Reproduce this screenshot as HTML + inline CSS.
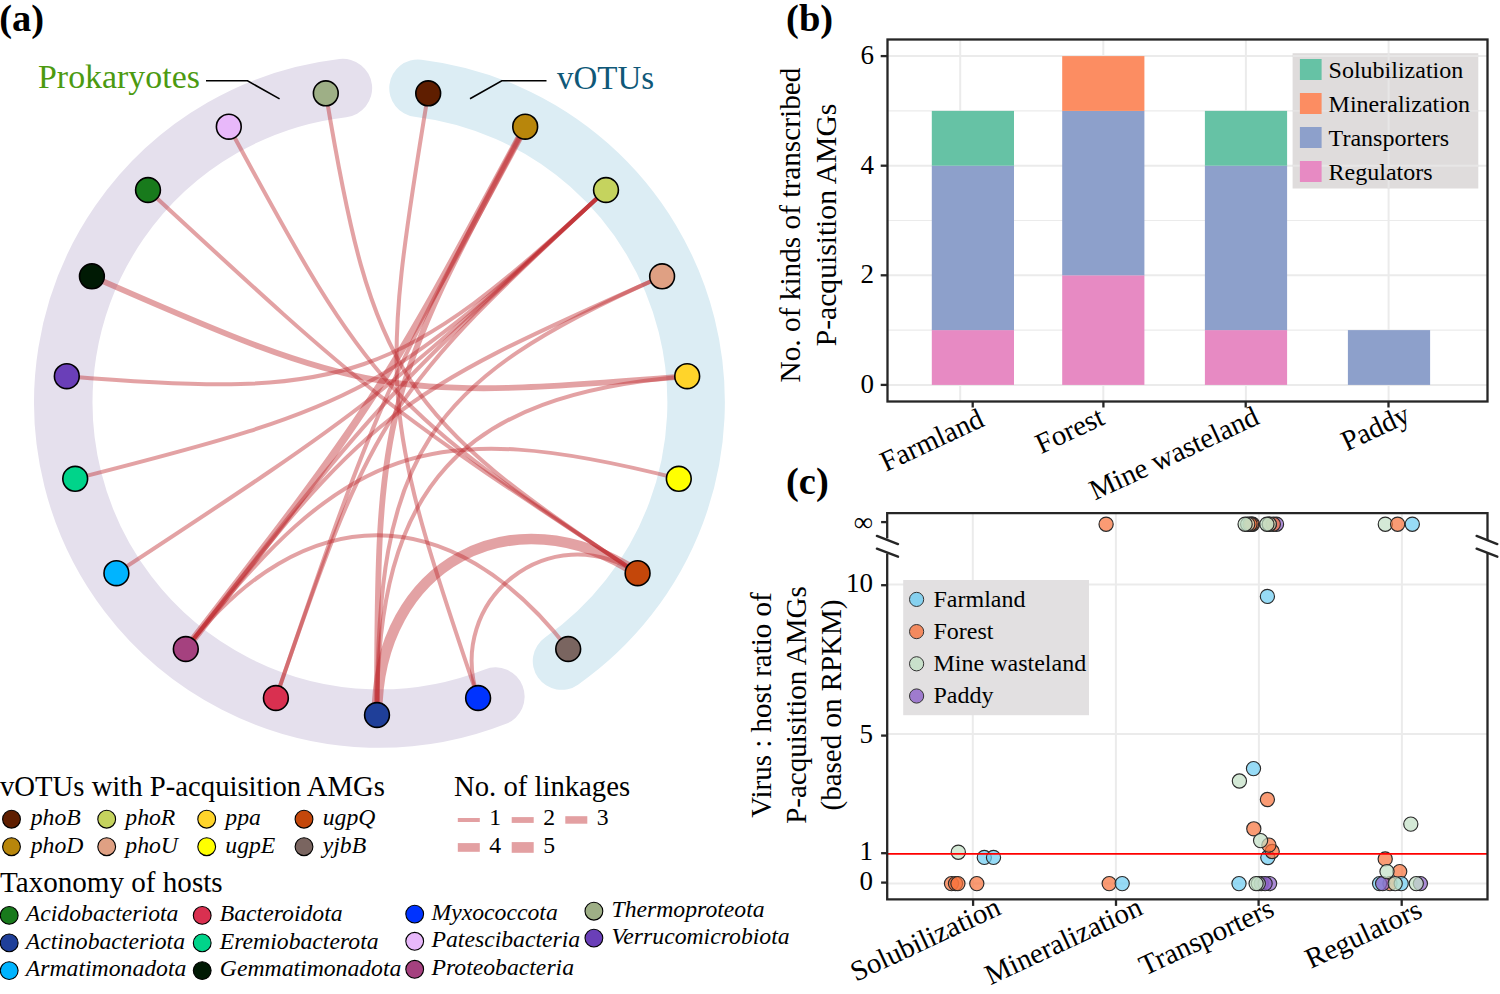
<!DOCTYPE html><html><head><meta charset="utf-8"><style>html,body{margin:0;padding:0;background:#fff;width:1500px;height:994px;overflow:hidden}svg{display:block}text{font-family:"Liberation Serif",serif}</style></head><body>
<svg width="1500" height="994" viewBox="0 0 1500 994">
<text x="-0.8" y="31.2" font-size="38.5" font-weight="bold">(a)</text>
<path d="M495.4 696.6A316.3 316.3 0 1 1 342.9 88.1" fill="none" stroke="#e5e0ed" stroke-width="58.5" stroke-linecap="round"/>
<path d="M418.0 88.2A316.3 316.3 0 0 1 561.5 661.1" fill="none" stroke="#dcedf4" stroke-width="57.5" stroke-linecap="round"/>
<text x="38" y="87.8" font-size="33.9" fill="#4c9a10">Prokaryotes</text>
<polyline points="206,80.8 247.5,80.8 279.6,98.9" fill="none" stroke="#000" stroke-width="1.6"/>
<text x="557" y="88.9" font-size="33" fill="#0f5878">vOTUs</text>
<polyline points="470,98.8 501.8,80.8 546.5,80.8" fill="none" stroke="#000" stroke-width="1.6"/>
<g fill="none" stroke="#bf2b2f" stroke-opacity="0.44">
<path d="M568.2 649.0C450.8 497.3 303.2 497.3 185.8 649.0" stroke-width="4.0"/>
<path d="M637.6 573.2C512.4 490.9 377.0 564.6 377.0 715.0" stroke-width="10.7"/>
<path d="M637.6 573.2C550.6 516.0 444.3 599.2 478.1 698.0" stroke-width="4.0"/>
<path d="M637.6 573.2C400.5 417.4 372.4 374.2 325.8 93.3" stroke-width="4.0"/>
<path d="M637.6 573.2C387.1 408.6 371.3 391.3 228.8 126.7" stroke-width="4.0"/>
<path d="M637.6 573.2C380.4 404.3 374.0 399.2 148.0 190.0" stroke-width="4.0"/>
<path d="M606.0 190.0C398.3 382.3 348.1 399.6 66.8 376.2" stroke-width="4.0"/>
<path d="M606.0 190.0C386.2 393.4 364.8 405.1 75.2 478.8" stroke-width="4.0"/>
<path d="M606.0 190.0C380.0 399.2 373.6 404.3 116.4 573.2" stroke-width="4.0"/>
<path d="M606.0 190.0C379.8 399.4 374.6 405.0 185.8 649.0" stroke-width="4.0"/>
<path d="M606.0 190.0C385.7 394.0 373.2 413.2 275.9 698.0" stroke-width="4.0"/>
<path d="M525.2 126.7C378.7 398.8 374.8 404.8 185.8 649.0" stroke-width="7.5"/>
<path d="M525.2 126.7C378.6 399.0 375.9 405.2 275.9 698.0" stroke-width="4.0"/>
<path d="M525.2 126.7C382.4 391.9 377.0 413.5 377.0 715.0" stroke-width="5.8"/>
<path d="M687.2 376.2C389.8 400.9 365.2 396.8 91.9 276.3" stroke-width="5.8"/>
<path d="M687.2 376.2C459.5 395.1 377.0 485.3 377.0 715.0" stroke-width="4.0"/>
<path d="M662.1 276.3C424.5 381.0 377.0 454.2 377.0 715.0" stroke-width="4.0"/>
<path d="M662.1 276.3C388.3 397.0 369.4 411.8 185.8 649.0" stroke-width="4.0"/>
<path d="M428.2 93.3C378.9 390.8 380.7 412.8 478.1 698.0" stroke-width="4.0"/>
<path d="M678.8 478.8C428.1 415.0 344.6 443.8 185.8 649.0" stroke-width="4.0"/>
</g>
<circle cx="428.2" cy="93.3" r="12.4" fill="#5f1e00" stroke="#000" stroke-width="1.6"/>
<circle cx="525.2" cy="126.7" r="12.4" fill="#b8860b" stroke="#000" stroke-width="1.6"/>
<circle cx="606.0" cy="190.0" r="12.4" fill="#c5d35e" stroke="#000" stroke-width="1.6"/>
<circle cx="662.1" cy="276.3" r="12.4" fill="#dfa083" stroke="#000" stroke-width="1.6"/>
<circle cx="687.2" cy="376.2" r="12.4" fill="#ffd42a" stroke="#000" stroke-width="1.6"/>
<circle cx="678.8" cy="478.8" r="12.4" fill="#ffff00" stroke="#000" stroke-width="1.6"/>
<circle cx="637.6" cy="573.2" r="12.4" fill="#c4470a" stroke="#000" stroke-width="1.6"/>
<circle cx="568.2" cy="649.0" r="12.4" fill="#7a6560" stroke="#000" stroke-width="1.6"/>
<circle cx="478.1" cy="698.0" r="12.4" fill="#0033ff" stroke="#000" stroke-width="1.6"/>
<circle cx="377.0" cy="715.0" r="12.4" fill="#1f3f99" stroke="#000" stroke-width="1.6"/>
<circle cx="275.9" cy="698.0" r="12.4" fill="#d93050" stroke="#000" stroke-width="1.6"/>
<circle cx="185.8" cy="649.0" r="12.4" fill="#a5417f" stroke="#000" stroke-width="1.6"/>
<circle cx="116.4" cy="573.2" r="12.4" fill="#00b4ff" stroke="#000" stroke-width="1.6"/>
<circle cx="75.2" cy="478.8" r="12.4" fill="#00d48a" stroke="#000" stroke-width="1.6"/>
<circle cx="66.8" cy="376.2" r="12.4" fill="#6a3fb8" stroke="#000" stroke-width="1.6"/>
<circle cx="91.9" cy="276.3" r="12.4" fill="#001a04" stroke="#000" stroke-width="1.6"/>
<circle cx="148.0" cy="190.0" r="12.4" fill="#187a1c" stroke="#000" stroke-width="1.6"/>
<circle cx="228.8" cy="126.7" r="12.4" fill="#e8b8fa" stroke="#000" stroke-width="1.6"/>
<circle cx="325.8" cy="93.3" r="12.4" fill="#9eaf86" stroke="#000" stroke-width="1.6"/>
<text x="0" y="796" font-size="28.7">vOTUs with P-acquisition AMGs</text>
<circle cx="11.5" cy="819.2" r="8.9" fill="#5f1e00" stroke="#000" stroke-width="1.1"/>
<text x="30.7" y="825.3" font-size="23.7" font-style="italic">phoB</text>
<circle cx="11.5" cy="846.7" r="8.9" fill="#b8860b" stroke="#000" stroke-width="1.1"/>
<text x="30.7" y="852.8" font-size="23.7" font-style="italic">phoD</text>
<circle cx="106.7" cy="819.2" r="8.9" fill="#c5d35e" stroke="#000" stroke-width="1.1"/>
<text x="125.3" y="825.3" font-size="23.7" font-style="italic">phoR</text>
<circle cx="106.7" cy="846.7" r="8.9" fill="#dfa083" stroke="#000" stroke-width="1.1"/>
<text x="125.3" y="852.8" font-size="23.7" font-style="italic">phoU</text>
<circle cx="206.7" cy="819.2" r="8.9" fill="#ffd42a" stroke="#000" stroke-width="1.1"/>
<text x="225.3" y="825.3" font-size="23.7" font-style="italic">ppa</text>
<circle cx="206.7" cy="846.7" r="8.9" fill="#ffff00" stroke="#000" stroke-width="1.1"/>
<text x="225.3" y="852.8" font-size="23.7" font-style="italic">ugpE</text>
<circle cx="304.0" cy="819.2" r="8.9" fill="#c4470a" stroke="#000" stroke-width="1.1"/>
<text x="322.7" y="825.3" font-size="23.7" font-style="italic">ugpQ</text>
<circle cx="304.0" cy="846.7" r="8.9" fill="#7a6560" stroke="#000" stroke-width="1.1"/>
<text x="322.7" y="852.8" font-size="23.7" font-style="italic">yjbB</text>
<text x="454" y="795.8" font-size="28.7">No. of linkages</text>
<rect x="457.8" y="818.0" width="22" height="4.0" fill="#e3a0a2"/>
<text x="489.3" y="825.3" font-size="23.7">1</text>
<rect x="511.7" y="817.1" width="22" height="5.8" fill="#e3a0a2"/>
<text x="543.2" y="825.3" font-size="23.7">2</text>
<rect x="565.3" y="816.2" width="22" height="7.5" fill="#e3a0a2"/>
<text x="596.8" y="825.3" font-size="23.7">3</text>
<rect x="457.8" y="843.1" width="22" height="8.7" fill="#e3a0a2"/>
<text x="489.3" y="852.8" font-size="23.7">4</text>
<rect x="511.7" y="842.1" width="22" height="10.7" fill="#e3a0a2"/>
<text x="543.2" y="852.8" font-size="23.7">5</text>
<text x="0" y="892.2" font-size="29.1">Taxonomy of hosts</text>
<circle cx="9.2" cy="915.4" r="8.9" fill="#187a1c" stroke="#000" stroke-width="1.1"/>
<text x="25.8" y="921.0" font-size="23.7" font-style="italic">Acidobacteriota</text>
<circle cx="9.2" cy="942.9" r="8.9" fill="#1f3f99" stroke="#000" stroke-width="1.1"/>
<text x="25.8" y="948.5" font-size="23.7" font-style="italic">Actinobacteriota</text>
<circle cx="9.2" cy="970.6" r="8.9" fill="#00b4ff" stroke="#000" stroke-width="1.1"/>
<text x="25.8" y="976.2" font-size="23.7" font-style="italic">Armatimonadota</text>
<circle cx="202.2" cy="915.4" r="8.9" fill="#d93050" stroke="#000" stroke-width="1.1"/>
<text x="219.8" y="921.0" font-size="23.7" font-style="italic">Bacteroidota</text>
<circle cx="202.2" cy="942.9" r="8.9" fill="#00d48a" stroke="#000" stroke-width="1.1"/>
<text x="219.8" y="948.5" font-size="23.7" font-style="italic">Eremiobacterota</text>
<circle cx="202.2" cy="970.6" r="8.9" fill="#001a04" stroke="#000" stroke-width="1.1"/>
<text x="219.8" y="976.2" font-size="23.7" font-style="italic">Gemmatimonadota</text>
<circle cx="414.7" cy="914.1" r="8.9" fill="#0033ff" stroke="#000" stroke-width="1.1"/>
<text x="431.5" y="919.7" font-size="23.7" font-style="italic">Myxococcota</text>
<circle cx="414.7" cy="941.3" r="8.9" fill="#e8b8fa" stroke="#000" stroke-width="1.1"/>
<text x="431.5" y="946.9" font-size="23.7" font-style="italic">Patescibacteria</text>
<circle cx="414.7" cy="969.3" r="8.9" fill="#a5417f" stroke="#000" stroke-width="1.1"/>
<text x="431.5" y="974.9" font-size="23.7" font-style="italic">Proteobacteria</text>
<circle cx="593.9" cy="911.2" r="8.9" fill="#9eaf86" stroke="#000" stroke-width="1.1"/>
<text x="611.5" y="916.8" font-size="23.7" font-style="italic">Thermoproteota</text>
<circle cx="593.9" cy="938.1" r="8.9" fill="#6a3fb8" stroke="#000" stroke-width="1.1"/>
<text x="611.5" y="943.7" font-size="23.7" font-style="italic">Verrucomicrobiota</text>
<text x="786.1" y="31.3" font-size="38.5" font-weight="bold">(b)</text>
<line x1="887.5" x2="1487.5" y1="384.9" y2="384.9" stroke="#ebebeb" stroke-width="2.0"/>
<line x1="887.5" x2="1487.5" y1="330.1" y2="330.1" stroke="#ebebeb" stroke-width="1.2"/>
<line x1="887.5" x2="1487.5" y1="275.3" y2="275.3" stroke="#ebebeb" stroke-width="2.0"/>
<line x1="887.5" x2="1487.5" y1="220.5" y2="220.5" stroke="#ebebeb" stroke-width="1.2"/>
<line x1="887.5" x2="1487.5" y1="165.7" y2="165.7" stroke="#ebebeb" stroke-width="2.0"/>
<line x1="887.5" x2="1487.5" y1="110.9" y2="110.9" stroke="#ebebeb" stroke-width="1.2"/>
<line x1="887.5" x2="1487.5" y1="56.1" y2="56.1" stroke="#ebebeb" stroke-width="2.0"/>
<line x1="960.2" x2="960.2" y1="39.5" y2="401.5" stroke="#ebebeb" stroke-width="2"/>
<line x1="1103.3" x2="1103.3" y1="39.5" y2="401.5" stroke="#ebebeb" stroke-width="2"/>
<line x1="1245.9" x2="1245.9" y1="39.5" y2="401.5" stroke="#ebebeb" stroke-width="2"/>
<line x1="1388.6" x2="1388.6" y1="39.5" y2="401.5" stroke="#ebebeb" stroke-width="2"/>
<rect x="931.8" y="330.1" width="82.2" height="54.8" fill="#e78ac3"/>
<rect x="931.8" y="165.7" width="82.2" height="164.4" fill="#8da0cb"/>
<rect x="931.8" y="110.9" width="82.2" height="54.8" fill="#66c2a5"/>
<rect x="1062.2" y="275.3" width="82.2" height="109.6" fill="#e78ac3"/>
<rect x="1062.2" y="110.9" width="82.2" height="164.4" fill="#8da0cb"/>
<rect x="1062.2" y="56.1" width="82.2" height="54.8" fill="#fc8d62"/>
<rect x="1204.9" y="330.1" width="82.2" height="54.8" fill="#e78ac3"/>
<rect x="1204.9" y="165.7" width="82.2" height="164.4" fill="#8da0cb"/>
<rect x="1204.9" y="110.9" width="82.2" height="54.8" fill="#66c2a5"/>
<rect x="1347.9" y="330.1" width="82.2" height="54.8" fill="#8da0cb"/>
<rect x="1292.6" y="53.2" width="185.7" height="135.3" fill="#dfdcdc"/>
<line x1="1292.6" x2="1478.3" y1="56.1" y2="56.1" stroke="#e7e6e6" stroke-width="2.0"/>
<line x1="1292.6" x2="1478.3" y1="110.9" y2="110.9" stroke="#e7e6e6" stroke-width="1.2"/>
<line x1="1292.6" x2="1478.3" y1="165.7" y2="165.7" stroke="#e7e6e6" stroke-width="2.0"/>
<line x1="1388.6" x2="1388.6" y1="53.2" y2="188.5" stroke="#e7e6e6" stroke-width="2"/>
<rect x="1299.9" y="59.0" width="21.7" height="21" fill="#66c2a5"/>
<text x="1328.6" y="77.6" font-size="24">Solubilization</text>
<rect x="1299.9" y="93.0" width="21.7" height="21" fill="#fc8d62"/>
<text x="1328.6" y="111.6" font-size="24">Mineralization</text>
<rect x="1299.9" y="127.0" width="21.7" height="21" fill="#8da0cb"/>
<text x="1328.6" y="145.6" font-size="24">Transporters</text>
<rect x="1299.9" y="161.0" width="21.7" height="21" fill="#e78ac3"/>
<text x="1328.6" y="179.6" font-size="24">Regulators</text>
<rect x="887.5" y="39.5" width="600.0" height="362.0" fill="none" stroke="#262626" stroke-width="2.3"/>
<line x1="880.7" x2="887.5" y1="384.9" y2="384.9" stroke="#262626" stroke-width="2.3"/>
<text x="874" y="392.7" font-size="27" text-anchor="end">0</text>
<line x1="880.7" x2="887.5" y1="275.3" y2="275.3" stroke="#262626" stroke-width="2.3"/>
<text x="874" y="283.1" font-size="27" text-anchor="end">2</text>
<line x1="880.7" x2="887.5" y1="165.7" y2="165.7" stroke="#262626" stroke-width="2.3"/>
<text x="874" y="173.5" font-size="27" text-anchor="end">4</text>
<line x1="880.7" x2="887.5" y1="56.1" y2="56.1" stroke="#262626" stroke-width="2.3"/>
<text x="874" y="63.9" font-size="27" text-anchor="end">6</text>
<line x1="972.7" x2="972.7" y1="401.5" y2="407.5" stroke="#262626" stroke-width="2.3"/>
<line x1="1103.4" x2="1103.4" y1="401.5" y2="407.5" stroke="#262626" stroke-width="2.3"/>
<line x1="1245.7" x2="1245.7" y1="401.5" y2="407.5" stroke="#262626" stroke-width="2.3"/>
<line x1="1388.5" x2="1388.5" y1="401.5" y2="407.5" stroke="#262626" stroke-width="2.3"/>
<text transform="translate(985.8,425.4) rotate(-25)" font-size="28.8" text-anchor="end">Farmland</text>
<text transform="translate(1106.2,423.7) rotate(-25)" font-size="28.8" text-anchor="end">Forest</text>
<text transform="translate(1260.9,423.2) rotate(-25)" font-size="28.8" text-anchor="end">Mine wasteland</text>
<text transform="translate(1411.9,421.1) rotate(-25)" font-size="28.8" text-anchor="end">Paddy</text>
<text transform="translate(800.3,225) rotate(-90)" font-size="29.3" text-anchor="middle">No. of kinds of transcribed</text>
<text transform="translate(836,225) rotate(-90)" font-size="29.6" text-anchor="middle">P-acquisition AMGs</text>
<text x="786" y="493.6" font-size="38.5" font-weight="bold">(c)</text>
<line x1="887.5" x2="1487.5" y1="883.4" y2="883.4" stroke="#ebebeb" stroke-width="2"/>
<line x1="887.5" x2="1487.5" y1="733.9" y2="733.9" stroke="#ebebeb" stroke-width="2"/>
<line x1="887.5" x2="1487.5" y1="584.4" y2="584.4" stroke="#ebebeb" stroke-width="2"/>
<line x1="972.8" x2="972.8" y1="513.1" y2="899.3" stroke="#ebebeb" stroke-width="2"/>
<line x1="1115.9" x2="1115.9" y1="513.1" y2="899.3" stroke="#ebebeb" stroke-width="2"/>
<line x1="1258.9" x2="1258.9" y1="513.1" y2="899.3" stroke="#ebebeb" stroke-width="2"/>
<line x1="1401.9" x2="1401.9" y1="513.1" y2="899.3" stroke="#ebebeb" stroke-width="2"/>
<rect x="903.2" y="580" width="185.8" height="135.2" fill="#e2e0e1"/>
<circle cx="916.6" cy="599.4" r="7.1" fill="#6fcdf3" fill-opacity="0.8" stroke="#333" stroke-width="1"/>
<text x="933.5" y="606.7" font-size="24">Farmland</text>
<circle cx="916.6" cy="631.6" r="7.1" fill="#f8743f" fill-opacity="0.8" stroke="#333" stroke-width="1"/>
<text x="933.5" y="638.9" font-size="24">Forest</text>
<circle cx="916.6" cy="663.8" r="7.1" fill="#c3e1c6" fill-opacity="0.8" stroke="#333" stroke-width="1"/>
<text x="933.5" y="671.1" font-size="24">Mine wasteland</text>
<circle cx="916.6" cy="696.0" r="7.1" fill="#8e62c9" fill-opacity="0.8" stroke="#333" stroke-width="1"/>
<text x="933.5" y="703.3" font-size="24">Paddy</text>
<circle cx="951.5" cy="883.6" r="7.1" fill="#f8743f" fill-opacity="0.72" stroke="#2a2a2a" stroke-width="1.15"/>
<circle cx="955.5" cy="883.6" r="7.1" fill="#f8743f" fill-opacity="0.72" stroke="#2a2a2a" stroke-width="1.15"/>
<circle cx="957.9" cy="883.6" r="7.1" fill="#f8743f" fill-opacity="0.72" stroke="#2a2a2a" stroke-width="1.15"/>
<circle cx="976.8" cy="883.6" r="7.1" fill="#f8743f" fill-opacity="0.72" stroke="#2a2a2a" stroke-width="1.15"/>
<circle cx="958.3" cy="852.2" r="7.1" fill="#c3e1c6" fill-opacity="0.72" stroke="#2a2a2a" stroke-width="1.15"/>
<circle cx="984.3" cy="857.4" r="7.1" fill="#6fcdf3" fill-opacity="0.72" stroke="#2a2a2a" stroke-width="1.15"/>
<circle cx="993.5" cy="857.4" r="7.1" fill="#6fcdf3" fill-opacity="0.72" stroke="#2a2a2a" stroke-width="1.15"/>
<circle cx="1106.1" cy="524.2" r="7.1" fill="#f8743f" fill-opacity="0.72" stroke="#2a2a2a" stroke-width="1.15"/>
<circle cx="1109.2" cy="883.6" r="7.1" fill="#f8743f" fill-opacity="0.72" stroke="#2a2a2a" stroke-width="1.15"/>
<circle cx="1122.2" cy="883.6" r="7.1" fill="#6fcdf3" fill-opacity="0.72" stroke="#2a2a2a" stroke-width="1.15"/>
<circle cx="1252.5" cy="524.2" r="7.1" fill="#f8743f" fill-opacity="0.72" stroke="#2a2a2a" stroke-width="1.15"/>
<circle cx="1251.5" cy="524.2" r="7.1" fill="#f8743f" fill-opacity="0.72" stroke="#2a2a2a" stroke-width="1.15"/>
<circle cx="1250.0" cy="524.2" r="7.1" fill="#f8743f" fill-opacity="0.72" stroke="#2a2a2a" stroke-width="1.15"/>
<circle cx="1247.7" cy="524.2" r="7.1" fill="#c3e1c6" fill-opacity="0.72" stroke="#2a2a2a" stroke-width="1.15"/>
<circle cx="1245.1" cy="524.2" r="7.1" fill="#c3e1c6" fill-opacity="0.72" stroke="#2a2a2a" stroke-width="1.15"/>
<circle cx="1276.5" cy="524.2" r="7.1" fill="#8e62c9" fill-opacity="0.72" stroke="#2a2a2a" stroke-width="1.15"/>
<circle cx="1273.3" cy="524.2" r="7.1" fill="#f8743f" fill-opacity="0.72" stroke="#2a2a2a" stroke-width="1.15"/>
<circle cx="1269.3" cy="524.2" r="7.1" fill="#f8743f" fill-opacity="0.72" stroke="#2a2a2a" stroke-width="1.15"/>
<circle cx="1269.3" cy="524.2" r="7.1" fill="#c3e1c6" fill-opacity="0.72" stroke="#2a2a2a" stroke-width="1.15"/>
<circle cx="1266.9" cy="524.2" r="7.1" fill="#c3e1c6" fill-opacity="0.72" stroke="#2a2a2a" stroke-width="1.15"/>
<circle cx="1267.4" cy="596.4" r="7.1" fill="#6fcdf3" fill-opacity="0.72" stroke="#2a2a2a" stroke-width="1.15"/>
<circle cx="1253.5" cy="768.6" r="7.1" fill="#6fcdf3" fill-opacity="0.72" stroke="#2a2a2a" stroke-width="1.15"/>
<circle cx="1239.4" cy="781.0" r="7.1" fill="#c3e1c6" fill-opacity="0.72" stroke="#2a2a2a" stroke-width="1.15"/>
<circle cx="1267.4" cy="799.5" r="7.1" fill="#f8743f" fill-opacity="0.72" stroke="#2a2a2a" stroke-width="1.15"/>
<circle cx="1253.8" cy="828.8" r="7.1" fill="#f8743f" fill-opacity="0.72" stroke="#2a2a2a" stroke-width="1.15"/>
<circle cx="1267.8" cy="857.5" r="7.1" fill="#6fcdf3" fill-opacity="0.72" stroke="#2a2a2a" stroke-width="1.15"/>
<circle cx="1272.2" cy="851.5" r="7.1" fill="#f8743f" fill-opacity="0.72" stroke="#2a2a2a" stroke-width="1.15"/>
<circle cx="1268.9" cy="845.1" r="7.1" fill="#f8743f" fill-opacity="0.72" stroke="#2a2a2a" stroke-width="1.15"/>
<circle cx="1260.6" cy="840.6" r="7.1" fill="#c3e1c6" fill-opacity="0.72" stroke="#2a2a2a" stroke-width="1.15"/>
<circle cx="1239.0" cy="883.6" r="7.1" fill="#6fcdf3" fill-opacity="0.72" stroke="#2a2a2a" stroke-width="1.15"/>
<circle cx="1261.3" cy="883.6" r="7.1" fill="#8e62c9" fill-opacity="0.72" stroke="#2a2a2a" stroke-width="1.15"/>
<circle cx="1269.6" cy="883.6" r="7.1" fill="#8e62c9" fill-opacity="0.72" stroke="#2a2a2a" stroke-width="1.15"/>
<circle cx="1265.1" cy="883.6" r="7.1" fill="#8e62c9" fill-opacity="0.72" stroke="#2a2a2a" stroke-width="1.15"/>
<circle cx="1258.3" cy="883.6" r="7.1" fill="#c3e1c6" fill-opacity="0.72" stroke="#2a2a2a" stroke-width="1.15"/>
<circle cx="1256.1" cy="883.6" r="7.1" fill="#c3e1c6" fill-opacity="0.72" stroke="#2a2a2a" stroke-width="1.15"/>
<circle cx="1385.3" cy="524.2" r="7.1" fill="#c3e1c6" fill-opacity="0.72" stroke="#2a2a2a" stroke-width="1.15"/>
<circle cx="1397.6" cy="524.2" r="7.1" fill="#f8743f" fill-opacity="0.72" stroke="#2a2a2a" stroke-width="1.15"/>
<circle cx="1412.3" cy="524.2" r="7.1" fill="#6fcdf3" fill-opacity="0.72" stroke="#2a2a2a" stroke-width="1.15"/>
<circle cx="1410.8" cy="824.1" r="7.1" fill="#c3e1c6" fill-opacity="0.72" stroke="#2a2a2a" stroke-width="1.15"/>
<circle cx="1385.2" cy="858.9" r="7.1" fill="#f8743f" fill-opacity="0.72" stroke="#2a2a2a" stroke-width="1.15"/>
<circle cx="1399.7" cy="871.6" r="7.1" fill="#f8743f" fill-opacity="0.72" stroke="#2a2a2a" stroke-width="1.15"/>
<circle cx="1390.0" cy="883.6" r="7.1" fill="#f8743f" fill-opacity="0.72" stroke="#2a2a2a" stroke-width="1.15"/>
<circle cx="1379.6" cy="883.6" r="7.1" fill="#6fcdf3" fill-opacity="0.72" stroke="#2a2a2a" stroke-width="1.15"/>
<circle cx="1382.6" cy="883.6" r="7.1" fill="#8e62c9" fill-opacity="0.72" stroke="#2a2a2a" stroke-width="1.15"/>
<circle cx="1401.2" cy="883.6" r="7.1" fill="#6fcdf3" fill-opacity="0.72" stroke="#2a2a2a" stroke-width="1.15"/>
<circle cx="1387.0" cy="871.6" r="7.1" fill="#c3e1c6" fill-opacity="0.72" stroke="#2a2a2a" stroke-width="1.15"/>
<circle cx="1395.2" cy="883.6" r="7.1" fill="#c3e1c6" fill-opacity="0.72" stroke="#2a2a2a" stroke-width="1.15"/>
<circle cx="1420.4" cy="883.6" r="7.1" fill="#8e62c9" fill-opacity="0.72" stroke="#2a2a2a" stroke-width="1.15"/>
<circle cx="1416.3" cy="883.6" r="7.1" fill="#c3e1c6" fill-opacity="0.72" stroke="#2a2a2a" stroke-width="1.15"/>
<line x1="887.5" x2="1487.5" y1="853.8" y2="853.8" stroke="#ff0000" stroke-width="1.8"/>
<path d="M887.2 538.4V513.1H1487.5V540" fill="none" stroke="#262626" stroke-width="2.3"/>
<path d="M1487.5 553V899.3H887.2V553.5" fill="none" stroke="#262626" stroke-width="2.3"/>
<line x1="876.9" y1="535.9" x2="898.0" y2="544.1" stroke="#262626" stroke-width="2.4" stroke-linecap="round"/>
<line x1="876.9" y1="548.7" x2="898.0" y2="556.7" stroke="#262626" stroke-width="2.4" stroke-linecap="round"/>
<line x1="1476.6" y1="535.9" x2="1497.3" y2="544.1" stroke="#262626" stroke-width="2.4" stroke-linecap="round"/>
<line x1="1476.6" y1="548.7" x2="1497.3" y2="556.7" stroke="#262626" stroke-width="2.4" stroke-linecap="round"/>
<line x1="881.1" x2="887.2" y1="522.1" y2="522.1" stroke="#262626" stroke-width="2.3"/>
<text x="873" y="531.4" font-size="27" text-anchor="end">∞</text>
<line x1="881.1" x2="887.2" y1="585.2" y2="585.2" stroke="#262626" stroke-width="2.3"/>
<text x="873" y="592.3" font-size="27" text-anchor="end">10</text>
<line x1="881.1" x2="887.2" y1="735.6" y2="735.6" stroke="#262626" stroke-width="2.3"/>
<text x="873" y="742.7" font-size="27" text-anchor="end">5</text>
<line x1="881.1" x2="887.2" y1="853.2" y2="853.2" stroke="#262626" stroke-width="2.3"/>
<text x="873" y="860.3" font-size="27" text-anchor="end">1</text>
<line x1="881.1" x2="887.2" y1="882.6" y2="882.6" stroke="#262626" stroke-width="2.3"/>
<text x="873" y="889.7" font-size="27" text-anchor="end">0</text>
<line x1="973.1" x2="973.1" y1="899.3" y2="905.9" stroke="#262626" stroke-width="2.3"/>
<line x1="1116.0" x2="1116.0" y1="899.3" y2="905.9" stroke="#262626" stroke-width="2.3"/>
<line x1="1258.6" x2="1258.6" y1="899.3" y2="905.9" stroke="#262626" stroke-width="2.3"/>
<line x1="1401.7" x2="1401.7" y1="899.3" y2="905.9" stroke="#262626" stroke-width="2.3"/>
<text transform="translate(1002.5,913.6) rotate(-25)" font-size="28.8" text-anchor="end">Solubilization</text>
<text transform="translate(1144.2,913.6) rotate(-25)" font-size="28.8" text-anchor="end">Mineralization</text>
<text transform="translate(1275.8,914.9) rotate(-25)" font-size="28.8" text-anchor="end">Transporters</text>
<text transform="translate(1423.9,916.2) rotate(-25)" font-size="28.8" text-anchor="end">Regulators</text>
<text transform="translate(771,705) rotate(-90)" font-size="29" text-anchor="middle">Virus : host ratio of</text>
<text transform="translate(805.6,705) rotate(-90)" font-size="29" text-anchor="middle">P-acquisition AMGs</text>
<text transform="translate(840.8,705) rotate(-90)" font-size="29" text-anchor="middle">(based on RPKM)</text>
</svg></body></html>
